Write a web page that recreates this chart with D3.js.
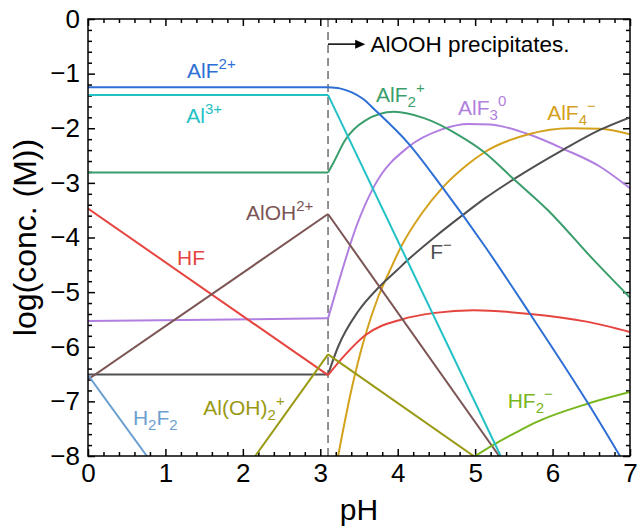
<!DOCTYPE html>
<html>
<head>
<meta charset="utf-8">
<script src="https://cdn.jsdelivr.net/npm/d3@7"></script>
<style>
    body { margin: 0; background: #fff; }
    svg text { font-family: "Liberation Sans", Arial, sans-serif; }
</style>
</head>
<body>
<div id="chart"></div>
<script>
// [pH, log(conc.)]
const AlF_2p = [[0, -1.25], [3.1, -1.25], [3.25, -1.27], [3.4, -1.34], [3.55, -1.46], [3.71, -1.67], [4.14, -2.28],
    [4.57, -3.07], [5.13, -4.17], [5.71, -5.40], [6.46, -7.04], [6.87, -8.0]];
const Al_3p = [[0, -1.39], [3.1, -1.39], [5.33, -8.0]];
const AlF2_p = [[0, -2.81], [3.1, -2.81], [3.17, -2.63], [3.32, -2.22], [3.58, -1.86], [3.95, -1.70], [4.35, -1.82],
    [4.78, -2.12], [5.11, -2.43], [5.49, -2.92], [5.94, -3.50], [6.53, -4.41], [7.0, -5.1]];
const AlF3 = [[0, -5.53], [3.1, -5.48], [3.23, -4.85], [3.47, -3.78], [3.7, -3.05], [4.14, -2.34], [4.57, -2.02],
    [4.91, -1.92], [5.2, -1.93], [5.36, -1.97], [5.71, -2.12], [6.16, -2.39], [6.61, -2.70], [7.0, -3.10]];
const AlF4_m = [[3.23, -8.0], [3.4, -6.8], [3.58, -5.8], [3.75, -5.08], [3.9, -4.6], [4.05, -4.15], [4.31, -3.56],
    [4.57, -3.1], [4.87, -2.7], [5.13, -2.43], [5.69, -2.11], [6.23, -2.0], [6.61, -2.01], [7.0, -2.11]];
const F_m = [[0, -6.51], [3.1, -6.51], [3.23, -6.0], [3.49, -5.35], [3.75, -4.92], [3.99, -4.6], [4.14, -4.4],
    [4.48, -3.99], [4.83, -3.6], [5.13, -3.28], [5.49, -2.94], [6.14, -2.39], [6.61, -2.03], [7.0, -1.80]];
const HF = [[0, -3.47], [3.1, -6.52], [3.32, -6.15], [3.58, -5.79], [4.05, -5.50], [4.48, -5.38], [4.98, -5.33],
    [5.71, -5.40], [6.44, -5.54], [7.0, -5.73]];
const AlOH_2p = [[0, -6.6], [3.1, -3.57], [5.31, -8.0]];
const H2F2 = [[0, -6.52], [0.76, -8.0]];
const AlOH2_p = [[2.16, -8.0], [3.1, -6.14], [4.98, -8.0]];
const HF2_m = [[5.0, -8.0], [5.23, -7.8], [5.58, -7.53], [5.79, -7.38], [6.46, -7.04], [7.0, -6.83]];

const pH_precip = 3.1;
const xTicks = [0, 1, 2, 3, 4, 5, 6, 7];
const yTicks = [-8, -7, -6, -5, -4, -3, -2, -1, 0];

const margin = {top: 19, right: 10, bottom: 75, left: 88};
const width = 542, height = 437;

const series = [
    {data: AlF3, color: "#b07fe0"},
    {data: AlF4_m, color: "#d4a11c"},
    {data: F_m, color: "#505050"},
    {data: HF, color: "#e6443e"},
    {data: AlOH_2p, color: "#7b5454"},
    {data: H2F2, color: "#6b9fcf"},
    {data: AlOH2_p, color: "#999913"},
    {data: HF2_m, color: "#78b61e"},
    {data: AlF2_p, color: "#3a9e6c"},
    {data: Al_3p, color: "#22c1c6"},
    {data: AlF_2p, color: "#2d6fd5"}
];

const labels = [
    {parts: [["AlF"], ["2+", "sup"]], x: 1.28, y: -1.08, color: "#2d6fd5"},
    {parts: [["Al"], ["3+", "sup"]], x: 1.27, y: -1.9, color: "#22c1c6"},
    {parts: [["AlF"], ["2", "sub"], ["+", "sup"]], x: 3.72, y: -1.52, color: "#3a9e6c"},
    {parts: [["AlF"], ["3", "sub"], ["0", "sup"]], x: 4.78, y: -1.76, color: "#b07fe0"},
    {parts: [["AlF"], ["4", "sub"], ["\u2212", "sup"]], x: 5.93, y: -1.85, color: "#d4a11c"},
    {parts: [["F"], ["\u2212", "sup"]], x: 4.42, y: -4.4, color: "#505050"},
    {parts: [["AlOH"], ["2+", "sup"]], x: 2.04, y: -3.68, color: "#7b5454"},
    {parts: [["HF"]], x: 1.15, y: -4.51, color: "#e6443e"},
    {parts: [["H"], ["2", "sub"], ["F"], ["2", "sub"]], x: 0.58, y: -7.44, color: "#6b9fcf"},
    {parts: [["Al(OH)"], ["2", "sub"], ["+", "sup"]], x: 1.49, y: -7.25, color: "#999913"},
    {parts: [["HF"], ["2", "sub"], ["\u2212", "sup"]], x: 5.42, y: -7.12, color: "#78b61e"}
];

const svg = d3.select("#chart")
    .append("svg")
    .attr("width", 640)
    .attr("height", 531)
    .append("g")
    .attr("transform", "translate(" + margin.left + "," + margin.top + ")");

const x = d3.scaleLinear().domain([0, 7]).range([0, width]);
const y = d3.scaleLinear().domain([-8, 0]).range([height, 0]);

svg.append("clipPath").attr("id", "plot-clip")
    .append("rect").attr("width", width).attr("height", height);

const minor = (lo, hi) => d3.range(lo, hi + 0.001, 0.2).filter(v => Math.abs(v - Math.round(v)) > 1e-6);
const fmt = d3.format("d");

function styleAxis(g) {
    g.select(".domain").remove();
    g.selectAll(".tick line").attr("stroke", "#000").attr("stroke-width", 1.5);
    g.selectAll(".tick text").attr("fill", "#000").style("font-size", "26px");
}

// bottom / top
svg.append("g").attr("transform", `translate(0,${height})`)
    .call(d3.axisBottom(x).tickValues(xTicks).tickSize(-7).tickPadding(8).tickFormat(fmt)).call(styleAxis);
svg.append("g").attr("transform", `translate(0,${height})`)
    .call(d3.axisBottom(x).tickValues(minor(0, 7)).tickSize(-4).tickFormat("")).call(styleAxis);
svg.append("g")
    .call(d3.axisTop(x).tickValues(xTicks).tickSize(-7).tickFormat("")).call(styleAxis);
svg.append("g")
    .call(d3.axisTop(x).tickValues(minor(0, 7)).tickSize(-4).tickFormat("")).call(styleAxis);

// left / right
svg.append("g")
    .call(d3.axisLeft(y).tickValues(yTicks).tickSize(-7).tickPadding(8).tickFormat(fmt)).call(styleAxis);
svg.append("g")
    .call(d3.axisLeft(y).tickValues(minor(-8, 0)).tickSize(-4).tickFormat("")).call(styleAxis);
svg.append("g").attr("transform", `translate(${width},0)`)
    .call(d3.axisRight(y).tickValues(yTicks).tickSize(-7).tickFormat("")).call(styleAxis);
svg.append("g").attr("transform", `translate(${width},0)`)
    .call(d3.axisRight(y).tickValues(minor(-8, 0)).tickSize(-4).tickFormat("")).call(styleAxis);

// precipitation boundary
svg.append("line")
    .attr("x1", x(pH_precip)).attr("x2", x(pH_precip))
    .attr("y1", 0).attr("y2", height)
    .attr("stroke", "#6e6e6e")
    .attr("stroke-width", 1.5)
    .attr("stroke-dasharray", "8,5");

// curves: straight below the boundary, smooth above it
const lineStraight = d3.line().x(d => x(d[0])).y(d => y(d[1]));
const lineSmooth = d3.line().x(d => x(d[0])).y(d => y(d[1])).curve(d3.curveMonotoneX);

const lines = svg.append("g").attr("clip-path", "url(#plot-clip)");
series.forEach(function (s) {
    const pre = s.data.filter(d => d[0] <= pH_precip);
    const post = s.data.filter(d => d[0] >= pH_precip);
    if (pre.length > 1) {
        lines.append("path").attr("d", lineStraight(pre))
            .attr("fill", "none").attr("stroke", s.color).attr("stroke-width", 2);
    }
    if (post.length > 1) {
        lines.append("path").attr("d", lineSmooth(post))
            .attr("fill", "none").attr("stroke", s.color).attr("stroke-width", 2)
            .attr("stroke-linejoin", "round");
    }
});

// frame
svg.append("rect")
    .attr("width", width).attr("height", height)
    .attr("fill", "none").attr("stroke", "#000").attr("stroke-width", 1.5);

// species labels
labels.forEach(function (l) {
    const t = svg.append("text")
        .attr("x", x(l.x)).attr("y", y(l.y))
        .attr("fill", l.color)
        .style("font-size", "21px");
    let shift = 0;
    l.parts.forEach(function (p) {
        const target = p[1] === "sup" ? -9 : p[1] === "sub" ? 5 : 0;
        t.append("tspan")
            .attr("dy", target - shift)
            .style("font-size", p[1] ? "15px" : "21px")
            .text(p[0]);
        shift = target;
    });
});

// AlOOH annotation
const ay = y(-0.46);
svg.append("line")
    .attr("x1", x(pH_precip)).attr("x2", x(3.5))
    .attr("y1", ay).attr("y2", ay)
    .attr("stroke", "#000").attr("stroke-width", 1.5);
svg.append("path")
    .attr("d", `M${x(3.58)},${ay} L${x(3.58) - 10},${ay - 4.5} L${x(3.58) - 10},${ay + 4.5} Z`)
    .attr("fill", "#000");
svg.append("text")
    .attr("x", x(3.65)).attr("y", y(-0.6))
    .attr("fill", "#000")
    .style("font-size", "22.5px")
    .text("AlOOH precipitates.");

// axis titles
svg.append("text")
    .attr("text-anchor", "middle")
    .attr("x", width / 2)
    .attr("y", 501)
    .attr("fill", "#000")
    .style("font-size", "30px")
    .text("pH");

svg.append("text")
    .attr("text-anchor", "middle")
    .attr("transform", "rotate(-90)")
    .attr("x", -height / 2)
    .attr("y", -52)
    .attr("fill", "#000")
    .style("font-size", "32px")
    .text("log(conc. (M))");
</script>
</body>
</html>
